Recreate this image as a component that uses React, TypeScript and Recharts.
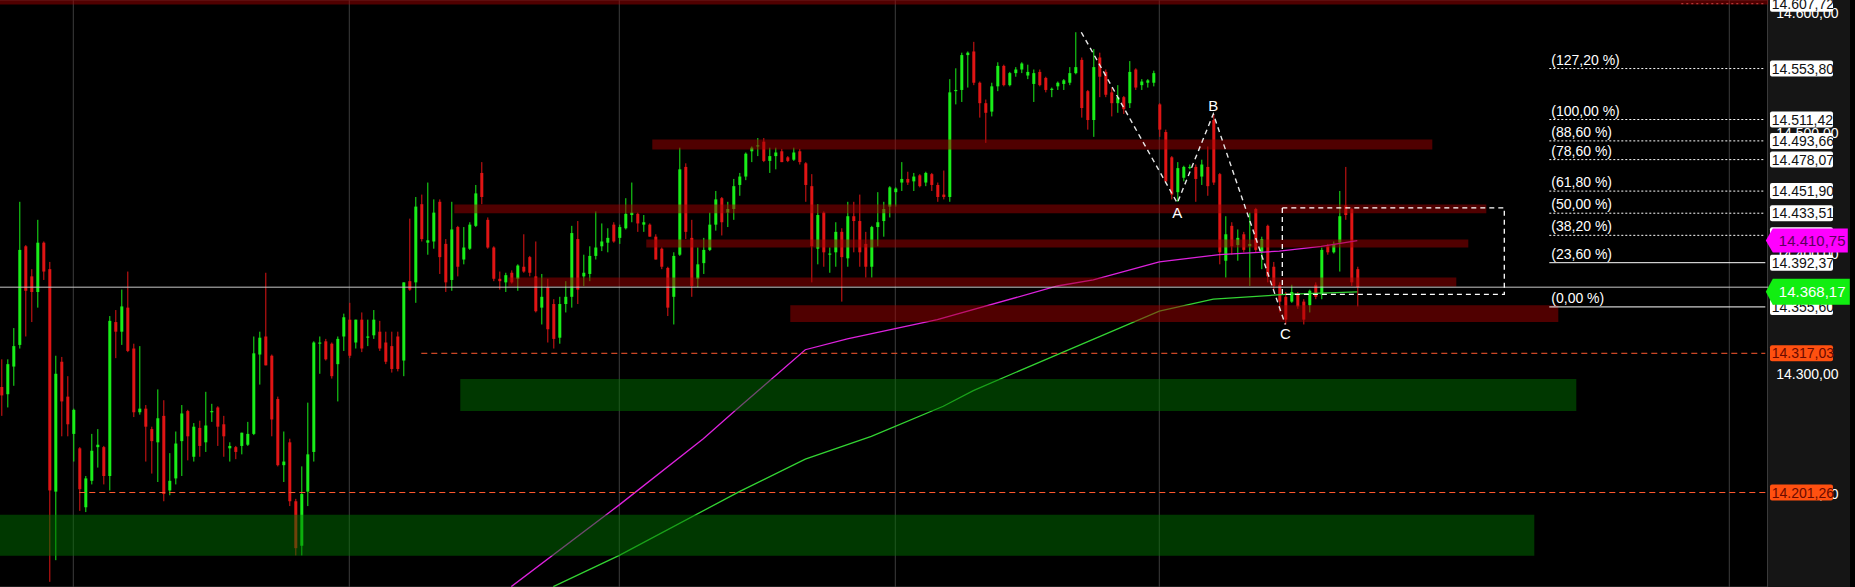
import React from 'react';
import {
  ComposedChart, Bar, Line, XAxis, YAxis, CartesianGrid,
  ReferenceLine, ReferenceArea, ReferenceDot,
} from 'recharts';

// ---------- candle data (one candle per slot) ----------
const opens = [
  14289,14283,14306,14324,14406,14381,14368,14409,14387,14202,14310,14281,14250,14238,14189,14211,14239,14239,14215,14343,
  14335,14355,14321,14268,14271,14254,14243,14265,14203,14213,14244,14269,14231,14255,14243,14268,14272,14258,14238,14239,
  14240,14241,14250,14316,14331,14315,14279,14224,14243,14194,14157,14202,14235,14325,14327,14325,14308,14331,14345,14326,
  14345,14330,14332,14335,14326,14323,14331,14311,14377,14376,14441,14409,14410,14443,14408,14378,14422,14395,14404,14423,
  14467,14428,14405,14379,14376,14384,14379,14389,14397,14381,14355,14372,14358,14330,14358,14364,14412,14381,14383,14398,
  14406,14409,14424,14413,14421,14432,14433,14424,14424,14414,14404,14388,14364,14399,14472,14413,14379,14392,14403,14424,
  14446,14434,14437,14457,14464,14485,14489,14493,14477,14481,14485,14480,14478,14485,14475,14456,14404,14434,14399,14401,
  14418,14396,14431,14427,14408,14389,14422,14427,14439,14451,14459,14462,14460,14465,14459,14466,14457,14449,14447,14535,
  14536,14565,14568,14542,14525,14518,14539,14556,14540,14550,14553,14548,14541,14551,14546,14536,14539,14541,14542,14550,
  14561,14535,14511,14563,14551,14534,14525,14530,14525,14553,14540,14542,14542,14524,14501,14480,14451,14463,14471,14472,
  14464,14472,14511,14466,14394,14423,14407,14416,14406,14437,14401,14423,14389,14374,14364,14360,14366,14360,14357,14374,
  14366,14406,14401,14409,14440,14437,14387,
];
const highs = [
  14312,14312,14338,14443,14407,14387,14428,14410,14393,14315,14314,14298,14271,14239,14215,14250,14254,14240,14348,14353,
  14370,14385,14325,14323,14274,14256,14287,14278,14234,14252,14274,14270,14259,14261,14285,14275,14273,14265,14243,14240,
  14251,14260,14331,14335,14384,14316,14281,14252,14246,14196,14223,14276,14327,14331,14329,14326,14331,14350,14359,14345,
  14351,14345,14353,14344,14335,14335,14335,14376,14429,14447,14449,14459,14445,14445,14412,14443,14423,14422,14426,14457,
  14476,14430,14406,14385,14384,14386,14391,14416,14398,14410,14383,14379,14362,14364,14377,14423,14427,14399,14406,14435,
  14425,14421,14426,14424,14446,14459,14434,14432,14425,14416,14405,14389,14401,14488,14475,14428,14405,14413,14434,14452,
  14447,14443,14462,14467,14484,14489,14496,14496,14488,14488,14487,14481,14488,14487,14476,14466,14441,14435,14405,14426,
  14421,14443,14443,14449,14418,14423,14451,14443,14456,14455,14476,14468,14467,14466,14468,14467,14459,14469,14545,14554,
  14567,14568,14576,14543,14528,14542,14559,14557,14551,14555,14559,14557,14553,14553,14547,14538,14543,14545,14555,14584,
  14563,14536,14570,14567,14553,14538,14540,14531,14560,14554,14545,14545,14552,14525,14503,14481,14476,14473,14474,14474,
  14478,14489,14516,14467,14431,14426,14420,14418,14434,14438,14414,14424,14393,14376,14368,14374,14368,14362,14370,14376,
  14405,14408,14410,14452,14472,14438,14389,
];
const lows = [
  14265,14272,14290,14321,14331,14343,14355,14378,14127,14145,14248,14248,14227,14186,14185,14208,14222,14208,14203,14313,
  14324,14318,14264,14266,14227,14217,14210,14194,14199,14208,14215,14228,14227,14231,14235,14260,14240,14231,14227,14229,
  14233,14240,14249,14291,14307,14248,14223,14210,14190,14149,14149,14190,14227,14300,14311,14296,14277,14319,14313,14321,
  14318,14323,14329,14319,14308,14301,14302,14298,14369,14359,14410,14399,14404,14383,14368,14369,14381,14391,14403,14422,
  14441,14404,14377,14370,14368,14375,14369,14384,14381,14351,14341,14326,14321,14325,14351,14355,14358,14373,14377,14395,
  14402,14401,14409,14408,14420,14426,14418,14418,14414,14395,14387,14348,14341,14398,14412,14364,14372,14383,14402,14419,
  14415,14422,14428,14448,14461,14476,14481,14476,14467,14470,14476,14476,14477,14474,14443,14376,14391,14389,14384,14389,
  14360,14389,14401,14389,14380,14380,14406,14414,14430,14439,14452,14457,14452,14455,14456,14452,14443,14445,14443,14524,
  14526,14538,14540,14513,14492,14514,14535,14539,14539,14547,14550,14545,14526,14539,14534,14530,14536,14536,14540,14549,
  14513,14503,14497,14530,14530,14514,14517,14516,14521,14536,14536,14538,14539,14497,14459,14445,14443,14460,14470,14443,
  14457,14448,14457,14391,14380,14399,14394,14401,14373,14401,14387,14376,14370,14351,14341,14359,14354,14341,14351,14362,
  14362,14399,14400,14385,14428,14373,14356,
];
const closes = [
  14282,14308,14323,14403,14369,14368,14409,14385,14203,14300,14277,14258,14270,14204,14213,14236,14241,14215,14344,14335,
  14356,14319,14268,14271,14256,14244,14263,14200,14211,14242,14267,14248,14256,14240,14257,14269,14256,14248,14240,14235,
  14251,14250,14317,14330,14307,14262,14224,14227,14194,14155,14200,14233,14326,14326,14312,14298,14329,14347,14315,14345,
  14321,14331,14345,14321,14310,14304,14304,14376,14370,14439,14412,14411,14434,14397,14376,14420,14389,14405,14424,14450,
  14447,14405,14379,14377,14382,14376,14390,14385,14384,14352,14364,14337,14329,14358,14364,14417,14370,14384,14398,14405,
  14410,14413,14410,14422,14433,14434,14425,14426,14414,14395,14389,14355,14398,14470,14418,14373,14391,14403,14424,14445,
  14426,14437,14456,14464,14483,14488,14490,14477,14481,14484,14476,14477,14484,14476,14457,14406,14432,14401,14400,14418,
  14397,14431,14427,14401,14389,14422,14426,14437,14455,14454,14462,14459,14464,14456,14467,14457,14447,14447,14534,14536,
  14565,14567,14542,14525,14517,14539,14556,14540,14550,14553,14558,14551,14550,14540,14536,14537,14542,14544,14550,14555,
  14521,14511,14555,14547,14532,14525,14530,14520,14551,14538,14543,14544,14550,14503,14460,14449,14471,14472,14472,14462,
  14474,14456,14459,14401,14416,14406,14413,14403,14408,14403,14412,14381,14373,14360,14345,14368,14356,14345,14369,14364,
  14403,14401,14408,14431,14432,14376,14372,
];
const SLOTS = 295; // candle slots incl. empty space on the right

// ---------- moving averages (sparse readings, joined) ----------
const maMagentaIdx = [85, 103, 117, 122, 134, 141, 156, 176, 182, 193, 203, 213, 220, 226];
const maMagentaVal = [14123, 14191, 14246, 14268, 14320, 14329, 14345, 14373, 14378, 14393, 14399, 14402, 14406, 14410.75];
const maGreenIdx = [92, 103, 123, 134, 145, 157, 162, 176, 193, 202, 214, 226];
const maGreenVal = [14123, 14149, 14202, 14229, 14248, 14273, 14286, 14316, 14352, 14362, 14366, 14368.17];

// ---------- ABC wave ----------
const abcIdx = [180, 196, 202, 214];
const abcVal = [14584, 14442, 14516, 14341];
const abcText = ['', 'A', 'B', 'C'];

// ---------- Fibonacci ----------
const fibPct = ['127,20', '100,00', '88,60', '78,60', '61,80', '50,00', '38,20', '23,60', '0,00'];
const fibVal = [14553.8, 14511.42, 14493.66, 14478.07, 14451.9, 14433.51, 14415.12, 14392.37, 14355.6];
const fibSolid = [false, false, false, false, false, false, false, true, true];
const fibStart = 258;
const lastSlot = 294;

// ---------- zones ----------
const redZoneFrom = [109, 76, 108, 85, 132];
const redZoneTo = [238, 247, 244, 242, 259];
const redZoneLow = [14486.5, 14433.4, 14405, 14372.6, 14343];
const redZoneHigh = [14494.8, 14440.8, 14411.6, 14380, 14357];
const greenZoneFrom = [77, 0];
const greenZoneTo = [262, 255];
const greenZoneLow = [14269, 14148.7];
const greenZoneHigh = [14295.6, 14182.7];

// ---------- lines & labels ----------
const dashLevels = [14317.03, 14201.26];
const dashFrom = [70, 13];
const lastPriceLine = 14372;
const boxRect = { from: 214, to: 250, low: 14366, high: 14438 };
const vGrid = [12, 58, 103, 149, 193, 288];
const yTicks = [14200, 14300, 14400, 14500, 14600];
const topLevel = 14607.72;
const magentaLevel = 14410.75;
const greenLevel = 14368.17;

const GREEN = '#19ee19';
const RED = '#e01414';
const FONT = '"Liberation Sans", Arial, sans-serif';

const fmt = (v: number) => {
  const [a, b] = v.toFixed(2).split('.');
  return a.replace(/\B(?=(\d{3})+(?!\d))/g, '.') + ',' + b;
};

const rows: any[] = Array.from({ length: SLOTS }, (_, i) => ({
  i, o: opens[i], h: highs[i], l: lows[i], c: closes[i],
}));
maMagentaIdx.forEach((idx, k) => { rows[idx].ma1 = maMagentaVal[k]; });
maGreenIdx.forEach((idx, k) => { rows[idx].ma2 = maGreenVal[k]; });
abcIdx.forEach((idx, k) => { rows[idx].abc = abcVal[k]; });

const Candle = (props: any) => {
  const { x, y, width, height, payload } = props;
  if (!payload || payload.o == null || !isFinite(y) || !isFinite(height)) return null;
  const top = Math.min(y, y + height);
  const hgt = Math.abs(height);
  const span = payload.h - payload.l || 1;
  const py = (p: number) => top + ((payload.h - p) / span) * hgt;
  const up = payload.c >= payload.o;
  const col = up ? GREEN : RED;
  const cx = x + width / 2;
  const bt = py(Math.max(payload.o, payload.c));
  const bb = py(Math.min(payload.o, payload.c));
  return (
    <g>
      <line x1={cx} x2={cx} y1={top} y2={top + hgt} stroke={col} strokeWidth={1} />
      <rect x={x} y={bt} width={width} height={Math.max(1.2, bb - bt)} fill={col} />
    </g>
  );
};

const tickLabel = (text: string) => (p: any) => {
  const vb = p.viewBox || {};
  const right = vb.x + vb.width;
  return (
    <text x={right + 8} y={vb.y + 5} fontSize={14} fill="#ffffff" fontFamily={FONT}>{text}</text>
  );
};

const boxLabel = (text: string, bg: string, fg: string) => (p: any) => {
  const vb = p.viewBox || {};
  const right = vb.x + vb.width;
  const cy = vb.y;
  return (
    <g>
      <rect x={right + 1.7} y={cy - 8} width={63} height={16} rx={2} fill={bg} />
      <text x={right + 3.5} y={cy + 5} fontSize={14} fill={fg} fontFamily={FONT}>{text}</text>
    </g>
  );
};

const arrowLabel = (text: string, bg: string, fg: string, h: number, w: number) => (p: any) => {
  const vb = p.viewBox || {};
  const right = vb.x + vb.width;
  const cy = vb.y;
  const x0 = right - 2.5;
  const pts = `${x0},${cy} ${x0 + 7},${cy - h / 2} ${x0 + w},${cy - h / 2} ${x0 + w},${cy + h / 2} ${x0 + 7},${cy + h / 2}`;
  return (
    <g>
      <polygon points={pts} fill={bg} />
      <text x={x0 + 13} y={cy + 5.5} fontSize={15} fill={fg} fontFamily={FONT}>{text}</text>
    </g>
  );
};

const fibLabel = (pct: string, value: number) => (p: any) => {
  const vb = p.viewBox || {};
  const right = vb.x + vb.width;
  const cy = vb.y;
  return (
    <g>
      <text x={vb.x + 2} y={cy - 4} fontSize={14} fill="#ffffff" fontFamily={FONT}>{`(${pct} %)`}</text>
      <rect x={right + 4.7} y={cy - 8} width={63} height={16} rx={2} fill="#ffffff" />
      <text x={right + 6.5} y={cy + 5} fontSize={14} fill="#111" fontFamily={FONT}>{fmt(value)}</text>
    </g>
  );
};

const abcLabel = (t: string, k: number) => (p: any) => {
  const vb = p.viewBox || {};
  const cx = vb.x + (vb.width || 0) / 2;
  const cy = vb.y + (vb.height || 0) / 2;
  const dy = k === 2 ? -3 : 15;
  return (
    <text x={cx} y={cy + dy} textAnchor="middle" fontSize={15} fill="#ffffff" fontFamily={FONT}>{t}</text>
  );
};

export default function App() {
  return (
    <div style={{ position: 'absolute', left: 0, top: 0, width: 1855, height: 587, background: '#000', overflow: 'hidden' }}>
      <div style={{ position: 'absolute', left: 1767, top: 0, width: 83, height: 587, background: '#151515', borderLeft: '1px solid #3a3a3a', boxSizing: 'border-box' }} />
      <div style={{ position: 'absolute', left: 0, top: 0 }}>
        <ComposedChart
          width={1855}
          height={587}
          data={rows}
          margin={{ top: 0, right: 0, bottom: 0, left: -1.7 }}
        >
          <CartesianGrid vertical={false} stroke="#3a3a3a" strokeWidth={1} zIndex={-100} />
          <XAxis dataKey="i" type="category" hide allowDuplicatedCategory={false} />
          <YAxis
            orientation="right"
            width={86.7}
            domain={[14122.7, 14610.8]}
            allowDataOverflow
            ticks={yTicks}
            interval={0}
            tickLine={false}
            axisLine={false}
            tick={false}
          />
          {vGrid.map((x) => (
            <ReferenceLine key={'vg' + x} x={x} stroke="#3c3c3c" strokeWidth={1} zIndex={-90} />
          ))}
          <Bar
            dataKey={(d: any) => (d.l == null ? null : [d.l, d.h])}
            barSize={3}
            shape={<Candle />}
            isAnimationActive={false}
            zIndex={300}
          />
          <Line dataKey="ma1" stroke="#dd22dd" strokeWidth={1.3} dot={false} connectNulls isAnimationActive={false} zIndex={400} />
          <Line dataKey="ma2" stroke="#33d433" strokeWidth={1.3} dot={false} connectNulls isAnimationActive={false} zIndex={400} />
          {redZoneFrom.map((f, k) => (
            <ReferenceArea key={'rz' + k} x1={f} x2={redZoneTo[k]} y1={redZoneLow[k]} y2={redZoneHigh[k]}
              fill="#a00000" fillOpacity={0.5} stroke="none" zIndex={450} />
          ))}
          {greenZoneFrom.map((f, k) => (
            <ReferenceArea key={'gz' + k} x1={f} x2={greenZoneTo[k]} y1={greenZoneLow[k]} y2={greenZoneHigh[k]}
              fill="#007000" fillOpacity={0.5} stroke="none" zIndex={450} />
          ))}
          <ReferenceArea y1={14607} y2={14616} fill="#a00000" fillOpacity={0.5} stroke="none" ifOverflow="hidden" zIndex={450} />
          <ReferenceLine y={lastPriceLine} stroke="#c8c8c8" strokeWidth={1} zIndex={500} />
          {dashLevels.map((v, k) => (
            <ReferenceLine key={'dl' + k} segment={[{ x: dashFrom[k], y: v }, { x: lastSlot, y: v }]}
              stroke="#ff5a30" strokeWidth={1} strokeDasharray="6 4" zIndex={500} />
          ))}
          <ReferenceLine segment={[{ x: 280, y: topLevel }, { x: lastSlot, y: topLevel }]}
            stroke="#d04040" strokeWidth={1} strokeDasharray="2 3" ifOverflow="visible" zIndex={500} />
          <ReferenceArea x1={boxRect.from} x2={boxRect.to} y1={boxRect.low} y2={boxRect.high}
            fill="none" fillOpacity={0} stroke="#ffffff" strokeWidth={1.3} strokeDasharray="5 4" zIndex={500} />
          <Line dataKey="abc" stroke="#e8e8e8" strokeWidth={1.4} strokeDasharray="5 4" dot={false} connectNulls isAnimationActive={false} zIndex={500} />
          {abcIdx.map((x, k) => (abcText[k] ? (
            <ReferenceDot key={'abc' + k} x={x} y={abcVal[k]} r={1} fill="none" stroke="none"
              label={abcLabel(abcText[k], k)} zIndex={600} />
          ) : null))}
          {yTicks.map((v) => (
            <ReferenceLine key={'yt' + v} y={v} stroke="none" label={tickLabel(fmt(v))} zIndex={650} />
          ))}
          {fibVal.map((v, k) => (
            <ReferenceLine key={'fib' + k} segment={[{ x: fibStart, y: v }, { x: lastSlot, y: v }]}
              stroke="#ffffff" strokeWidth={1} strokeDasharray={fibSolid[k] ? undefined : '2 2'}
              label={fibLabel(fibPct[k], v)} zIndex={700} />
          ))}
          <ReferenceLine y={topLevel} stroke="none" ifOverflow="visible" label={boxLabel(fmt(topLevel), '#ffffff', '#111')} zIndex={700} />
          {dashLevels.map((v, k) => (
            <ReferenceLine key={'ob' + k} y={v} stroke="none" label={boxLabel(fmt(v), '#ff5010', '#6a0a00')} zIndex={700} />
          ))}
          <ReferenceLine y={magentaLevel} stroke="none" label={arrowLabel(fmt(magentaLevel), '#ff00ff', '#5c005c', 24, 82)} zIndex={800} />
          <ReferenceLine y={greenLevel} stroke="none" label={arrowLabel(fmt(greenLevel), '#11ee11', '#ffffff', 26, 84)} zIndex={800} />
        </ComposedChart>
      </div>
    </div>
  );
}
